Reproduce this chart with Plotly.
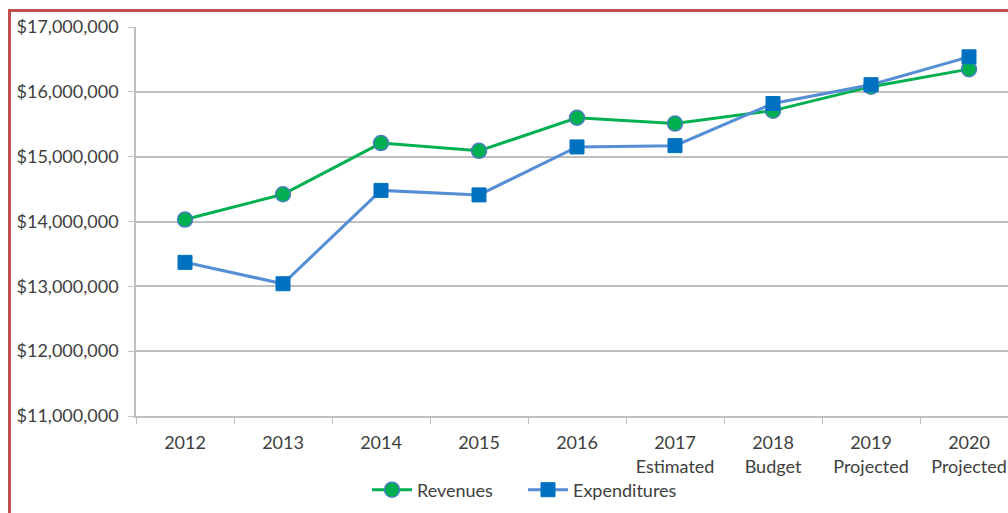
import plotly.graph_objects as go

# categories and values (dollars)
categories = ["2012", "2013", "2014", "2015", "2016",
              "2017<br>Estimated", "2018<br>Budget", "2019<br>Projected", "2020<br>Projected"]
revenues = [14030000, 14420000, 15210000, 15090000, 15600000,
            15510000, 15710000, 16080000, 16350000]
expenditures = [13370000, 13040000, 14480000, 14410000, 15150000,
                15170000, 15820000, 16110000, 16540000]
y_ticks = [11000000, 12000000, 13000000, 14000000, 15000000, 16000000, 17000000]

W, H = 1008, 513
ML, MT, MB, MR = 136, 27, 97, 0
cat_px = 98  # pixel width of one category slot

fig = go.Figure()
fig.add_trace(go.Scatter(
    x=categories, y=revenues, name="Revenues", mode="lines+markers",
    line=dict(color="#00B050", width=3),
    marker=dict(symbol="circle", size=15, color="#00B050",
                line=dict(color="#4A7EBB", width=1.5)),
))
fig.add_trace(go.Scatter(
    x=categories, y=expenditures, name="Expenditures", mode="lines+markers",
    line=dict(color="#558ED5", width=3),
    marker=dict(symbol="square", size=14, color="#0070C0",
                line=dict(color="#0070C0", width=1)),
))

plot_w = W - ML - MR
plot_h = H - MT - MB

# red frame of the original sheet (left and top edges only, rest is cropped)
def px_x(p):
    return (p - ML) / plot_w

def px_y(p):
    return (H - MB - p) / plot_h

fig.add_shape(type="line", xref="paper", yref="paper",
              x0=px_x(9.5), x1=px_x(9.5), y0=px_y(9), y1=px_y(H + 5),
              line=dict(color="#C0504D", width=3))
fig.add_shape(type="line", xref="paper", yref="paper",
              x0=px_x(8), x1=px_x(W + 5), y0=px_y(10.5), y1=px_y(10.5),
              line=dict(color="#C0504D", width=3))

font = dict(family="Lato, Open Sans, sans-serif", size=18, color="#404040")
fig.update_layout(
    width=W, height=H,
    margin=dict(l=ML, r=MR, t=MT, b=MB),
    paper_bgcolor="white", plot_bgcolor="white",
    font=font,
    showlegend=True,
    legend=dict(orientation="h", x=px_x(523), xanchor="center",
                y=px_y(490), yanchor="middle",
                font=dict(size=18, color="#404040"), itemwidth=40,
                entrywidth=101, entrywidthmode="pixels",
                bgcolor="rgba(0,0,0,0)"),
    xaxis=dict(
        type="category",
        range=[-0.5, -0.5 + plot_w / cat_px],
        showgrid=False,
        showline=True, linecolor="#BFBFBF", linewidth=1.5,
        ticks="outside", tickson="boundaries", ticklen=6, tickcolor="#BFBFBF",
        tickfont=dict(size=18, color="#404040"),
        ticklabelstandoff=10,
    ),
    yaxis=dict(
        range=[11000000, 17000000],
        tickvals=y_ticks,
        tickformat="$,.0f",
        showgrid=True, gridcolor="#BFBFBF", gridwidth=1.5,
        showline=True, linecolor="#BFBFBF", linewidth=1.5,
        ticks="outside", ticklen=6, tickcolor="#BFBFBF",
        tickfont=dict(size=18, color="#404040"),
        ticklabelstandoff=6,
        zeroline=False,
    ),
)

# page body has a default 8px margin; remove it so the chart fills the window
fig.write_html("out.html", config={"displayModeBar": False},
               post_script="document.body.style.margin='0';")
